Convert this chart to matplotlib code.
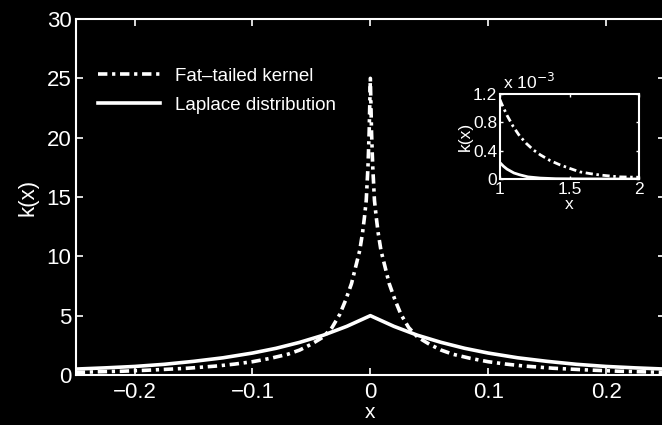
import numpy as np
import matplotlib
matplotlib.use('Agg')
import matplotlib.pyplot as plt

# values
fat_x = [-0.25, -0.21, -0.185, -0.155, -0.13, -0.115, -0.1, -0.085, -0.07, -0.06, -0.05,
         -0.04, -0.0325, -0.026, -0.021, -0.016, -0.0125, -0.009, -0.0066, -0.005, -0.0035,
         -0.002, -0.001, 0.0,
         0.001, 0.002, 0.0035, 0.005, 0.0066, 0.009, 0.0125, 0.016, 0.021, 0.026, 0.0325,
         0.04, 0.05, 0.06, 0.07, 0.085, 0.1, 0.115, 0.13, 0.155, 0.185, 0.21, 0.25]
fat_y = [0.22, 0.32, 0.42, 0.57, 0.76, 0.92, 1.12, 1.4, 1.75, 2.1, 2.6,
         3.2, 4.0, 5.1, 6.3, 7.7, 9.1, 10.5, 12.0, 13.3, 14.7,
         17.6, 20.5, 25.0,
         20.5, 17.6, 14.7, 13.3, 12.0, 10.5, 9.1, 7.7, 6.3, 5.1, 4.0,
         3.2, 2.6, 2.1, 1.75, 1.4, 1.12, 0.92, 0.76, 0.57, 0.42, 0.32, 0.22]

lap_x = [-0.25, -0.225, -0.2, -0.175, -0.15, -0.125, -0.1, -0.08, -0.06, -0.04, -0.02, 0.0,
         0.02, 0.04, 0.06, 0.08, 0.1, 0.125, 0.15, 0.175, 0.2, 0.225, 0.25]
lap_y = [0.5, 0.6, 0.72, 0.9, 1.15, 1.45, 1.85, 2.25, 2.75, 3.35, 4.1, 5.0,
         4.1, 3.35, 2.75, 2.25, 1.85, 1.45, 1.15, 0.9, 0.72, 0.6, 0.5]

# inset (values in units of 1e-3)
in_fat_x = [1.0, 1.01, 1.05, 1.095, 1.14, 1.19, 1.24, 1.29, 1.36, 1.43, 1.5, 1.574, 1.65, 1.72, 1.8, 1.86, 1.93, 2.0]
in_fat_y = [1.12, 1.07, 0.9, 0.74, 0.61, 0.5, 0.41, 0.34, 0.26, 0.2, 0.15, 0.1, 0.075, 0.056, 0.04, 0.03, 0.027, 0.025]
in_lap_x = [1.0, 1.025, 1.05, 1.1, 1.14, 1.2, 1.29, 1.4, 1.6, 1.8, 2.0]
in_lap_y = [0.23, 0.18, 0.14, 0.085, 0.06, 0.03, 0.013, 0.004, 0.001, 0.0, 0.0]

plt.rcParams['font.family'] = ['Liberation Sans', 'DejaVu Sans']

fig = plt.figure(figsize=(6.62, 4.25), dpi=100, facecolor='black')
ax = fig.add_axes([75.7 / 662, 50 / 425, 589.3 / 662, 356 / 425])
ax.set_facecolor('black')

dashdot = (0, (2.6, 1.3, 0.9, 1.3))
ax.plot(fat_x, fat_y, color='white', lw=2.6, linestyle=dashdot, label='Fat–tailed kernel')
ax.plot(lap_x, lap_y, color='white', lw=2.6, label='Laplace distribution')

ax.set_xlim(-0.25, 0.25)
ax.set_ylim(0, 30)
ax.set_xticks([-0.2, -0.1, 0, 0.1, 0.2])
ax.set_xticklabels(['\u22120.2', '\u22120.1', '0', '0.1', '0.2'])
ax.set_yticks([0, 5, 10, 15, 20, 25, 30])
for s in ax.spines.values():
    s.set_color('white')
    s.set_linewidth(1.5)
ax.tick_params(direction='in', top=True, right=True, colors='white', labelsize=16,
               length=5, width=1.2)
ax.tick_params(axis='x', pad=5)
ax.tick_params(axis='y', pad=3)
ax.set_xlabel('x', color='white', fontsize=15, labelpad=0)
ax.set_ylabel('k(x)', color='white', fontsize=16, labelpad=6)

leg = ax.legend(loc='upper left', bbox_to_anchor=(0.01, 0.91), frameon=False,
                fontsize=13.5, labelcolor='white', handlelength=3.3, handletextpad=0.8,
                labelspacing=0.62)

# inset
axi = fig.add_axes([500 / 662, 246 / 425, 139.3 / 662, 85 / 425])
axi.set_facecolor('black')
axi.plot(in_fat_x, in_fat_y, color='white', lw=2.0, linestyle=dashdot)
axi.plot(in_lap_x, in_lap_y, color='white', lw=2.0)
axi.set_xlim(1, 2)
axi.set_ylim(0, 1.2)
axi.set_xticks([1, 1.5, 2])
axi.set_xticklabels(['1', '1.5', '2'])
axi.set_yticks([0, 0.4, 0.8, 1.2])
axi.set_yticklabels(['0', '0.4', '0.8', '1.2'])
for s in axi.spines.values():
    s.set_color('white')
    s.set_linewidth(1.5)
axi.tick_params(direction='in', top=True, right=True, colors='white', labelsize=12.5,
                length=2, width=1, pad=2)
axi.set_xlabel('x', color='white', fontsize=12.5, labelpad=0)
axi.set_ylabel('k(x)', color='white', fontsize=12.5, labelpad=0)
axi.text(0.02, 1.02, r'x 10$^{-3}$', transform=axi.transAxes, color='white',
         fontsize=12.5, ha='left', va='bottom')

fig.savefig('out.png', dpi=100, facecolor='black')
